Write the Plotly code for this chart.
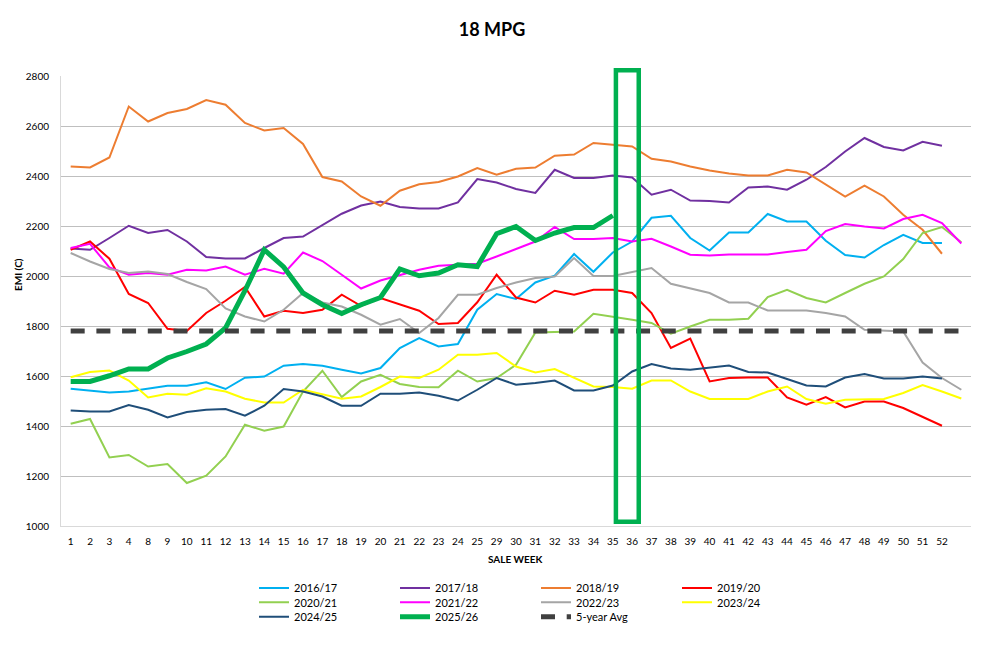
import plotly.graph_objects as go

weeks = ["1", "2", "3", "4", "8", "9", "10", "11", "12", "13", "14", "15", "16", "17", "18",
         "19", "20", "21", "22", "23", "24", "25", "29", "30", "31", "32", "33", "34", "35",
         "36", "37", "38", "39", "40", "41", "42", "43", "44", "45", "46", "47", "48", "49",
         "50", "51", "52", " "]

s2016 = [1549, 1541, 1534, 1538, 1551, 1561, 1561, 1575, 1548, 1593, 1598, 1641, 1648, 1641, 1625,
         1610, 1632, 1712, 1752, 1718, 1728, 1865, 1928, 1908, 1974, 2001, 2088, 2017, 2094,
         2138, 2233, 2241, 2152, 2102, 2174, 2174, 2248, 2218, 2218, 2141, 2084, 2074, 2124,
         2165, 2132, 2132, None]
s2017 = [2110, 2105, 2152, 2201, 2172, 2184, 2138, 2076, 2070, 2070, 2112, 2152, 2158, 2205, 2249,
         2282, 2298, 2276, 2270, 2270, 2294, 2388, 2374, 2348, 2332, 2425, 2392, 2392, 2402,
         2394, 2325, 2345, 2302, 2300, 2294, 2354, 2358, 2345, 2385, 2436, 2498, 2552, 2516,
         2502, 2537, 2521, None]
s2018 = [2438, 2434, 2474, 2678, 2618, 2652, 2668, 2704, 2685, 2612, 2582, 2592, 2528, 2396, 2378,
         2318, 2281, 2341, 2367, 2376, 2398, 2432, 2405, 2429, 2434, 2481, 2486, 2532, 2525,
         2518, 2469, 2458, 2438, 2422, 2410, 2402, 2402, 2425, 2414, 2365, 2318, 2361, 2318,
         2245, 2185, 2089, None]
s2019 = [2105, 2138, 2069, 1928, 1892, 1789, 1780, 1852, 1901, 1956, 1838, 1861, 1852, 1865, 1925,
         1880, 1912, 1885, 1861, 1808, 1812, 1895, 2005, 1914, 1894, 1941, 1925, 1945, 1945,
         1932, 1852, 1712, 1750, 1578, 1592, 1594, 1594, 1514, 1485, 1516, 1474, 1498, 1498,
         1472, 1436, 1401, None]
s2020 = [1409, 1428, 1274, 1284, 1238, 1248, 1172, 1201, 1278, 1405, 1381, 1398, 1538, 1621, 1516,
         1578, 1605, 1568, 1556, 1555, 1621, 1578, 1592, 1645, 1774, 1776, 1778, 1849, 1838,
         1825, 1812, 1769, 1798, 1825, 1825, 1829, 1916, 1945, 1912, 1894, 1932, 1969, 1998,
         2068, 2172, 2196, 2135]
s2021 = [2112, 2129, 2034, 2005, 2012, 2005, 2025, 2022, 2038, 2005, 2029, 2009, 2094, 2060, 2005,
         1950, 1982, 2002, 2025, 2041, 2045, 2049, 2078, 2108, 2138, 2196, 2148, 2148, 2152,
         2138, 2149, 2118, 2085, 2082, 2086, 2086, 2086, 2096, 2105, 2180, 2208, 2198, 2190,
         2228, 2245, 2212, 2130]
s2022 = [2092, 2058, 2028, 2012, 2018, 2008, 1976, 1948, 1870, 1838, 1818, 1865, 1932, 1894, 1878,
         1845, 1805, 1828, 1772, 1832, 1925, 1925, 1952, 1974, 1992, 1998, 2072, 2000, 2000,
         2016, 2032, 1969, 1950, 1932, 1894, 1894, 1862, 1862, 1862, 1852, 1838, 1785, 1781,
         1778, 1654, 1592, 1545]
s2023 = [1595, 1616, 1622, 1582, 1514, 1529, 1525, 1551, 1538, 1509, 1494, 1494, 1545, 1528, 1509,
         1518, 1556, 1598, 1592, 1625, 1685, 1685, 1692, 1638, 1614, 1628, 1594, 1558, 1556,
         1549, 1582, 1582, 1538, 1508, 1508, 1508, 1538, 1558, 1508, 1489, 1505, 1508, 1508,
         1532, 1564, 1538, 1510]
s2024 = [1462, 1458, 1458, 1484, 1465, 1434, 1456, 1465, 1468, 1441, 1481, 1548, 1538, 1518, 1481,
         1481, 1529, 1529, 1534, 1521, 1502, 1545, 1592, 1565, 1572, 1582, 1542, 1542, 1562,
         1618, 1648, 1630, 1625, 1632, 1642, 1616, 1614, 1588, 1562, 1558, 1594, 1608, 1590,
         1590, 1598, 1590, None]
s2025 = [1578, 1578, 1601, 1628, 1628, 1672, 1698, 1728, 1792, 1941, 2105, 2036, 1932, 1885, 1850,
         1885, 1914, 2028, 2001, 2012, 2045, 2038, 2169, 2198, 2142, 2172, 2194, 2194, 2242]
avg5 = [1780] * 47

series_names = ["2016/17", "2017/18", "2018/19", "2019/20",
                "2020/21", "2021/22", "2022/23", "2023/24",
                "2024/25", "2025/26", "5-year Avg"]
series_values = [s2016, s2017, s2018, s2019, s2020, s2021, s2022, s2023, s2024, s2025, avg5]
series_colors = ["#00B0F0", "#7030A0", "#ED7D31", "#FF0000",
                 "#92D050", "#FF00FF", "#A5A5A5", "#FFFF00",
                 "#1F4E79", "#00B050", "#404040"]

y_min, y_max = 1000, 2800
highlight_weeks = ("35", "36")
box_y = (1017, 2823)

FONT = "Lato"

fig = go.Figure()
for i, (name, vals, col) in enumerate(zip(series_names, series_values, series_colors)):
    width = 2
    dash = "solid"
    if name == "2025/26":
        width = 5
    if name == "5-year Avg":
        width = 5
        dash = "14px,11.7px"
    leg = ["legend", "legend2", "legend3"][i // 4]
    fig.add_trace(go.Scatter(
        x=weeks[:len(vals)], y=vals, name=name, mode="lines",
        line=dict(color=col, width=width, dash=dash),
        legend=leg, connectgaps=False, hoverinfo="x+y+name",
    ))

i35 = weeks.index(highlight_weeks[0])
i36 = weeks.index(highlight_weeks[1])
fig.add_shape(
    type="rect", xref="x", yref="paper",
    x0=i35 + 0.16, x1=i36 + 0.34,
    y0=(box_y[0] - y_min) / (y_max - y_min), y1=(box_y[1] - y_min) / (y_max - y_min),
    line=dict(color="#00B050", width=4.5), fillcolor="rgba(0,0,0,0)", layer="above",
)

# page body adds an 8px offset; figure coordinates below are screen pixels minus 8
OFF = 8
W, H = 987 - OFF, 648 - OFF
ML, MR, MT, MB = 60.7 - OFF, 16.3, 76.3 - OFF, 121.7
pw, ph = W - ML - MR, H - MT - MB


def px_x(p):
    return (p - OFF - ML) / pw


def px_y(p):
    return (H - MB - (p - OFF)) / ph


fig.add_annotation(text="<b>EMI (C)</b>", textangle=-90, xref="paper", yref="paper",
                   x=px_x(17), y=px_y(275), xanchor="center", yanchor="middle",
                   showarrow=False, font=dict(family=FONT, size=10, color="#000000"))
fig.add_annotation(text="<b>SALE WEEK</b>", xref="paper", yref="paper",
                   x=px_x(515), y=px_y(559.5), xanchor="center", yanchor="middle",
                   showarrow=False, font=dict(family=FONT, size=10, color="#000000"))

leg_common = dict(orientation="h", xref="container", yref="container",
                  x=(254 - OFF) / W, xanchor="left", yanchor="middle",
                  entrywidth=96, entrywidthmode="pixels",
                  font=dict(family=FONT, size=11, color="#000000"),
                  bgcolor="rgba(0,0,0,0)", borderwidth=0, traceorder="normal")

fig.update_layout(
    width=W, height=H,
    margin=dict(l=ML, r=MR, t=MT, b=MB, pad=0),
    paper_bgcolor="#FFFFFF", plot_bgcolor="#FFFFFF",
    title=dict(text="<b>18 MPG</b>", x=(492 - OFF) / W, xanchor="center", xref="container",
               y=1 - (30 - OFF) / H, yanchor="middle", yref="container",
               font=dict(family=FONT, size=18, color="#000000")),
    font=dict(family=FONT, size=10, color="#000000"),
    showlegend=True,
    legend=dict(leg_common, y=1 - (588 - OFF) / H),
    legend2=dict(leg_common, y=1 - (602.3 - OFF) / H),
    legend3=dict(leg_common, y=1 - (616.7 - OFF) / H),
    xaxis=dict(type="category", categoryorder="array", categoryarray=weeks,
               range=[-0.5, len(weeks) - 0.5],
               showgrid=False, zeroline=False, showline=True, linecolor="#D9D9D9",
               linewidth=1, ticks="", ticklabelstandoff=6,
               tickfont=dict(family=FONT, size=10, color="#000000"), fixedrange=True),
    yaxis=dict(range=[y_min, y_max], dtick=200, tick0=1000,
               showgrid=True, gridcolor="#BFBFBF", gridwidth=1,
               zeroline=False, showline=True, linecolor="#D9D9D9", linewidth=1,
               ticks="", ticklabelstandoff=9,
               tickfont=dict(family=FONT, size=10, color="#000000"), fixedrange=True),
)

fig.write_html("out.html")
